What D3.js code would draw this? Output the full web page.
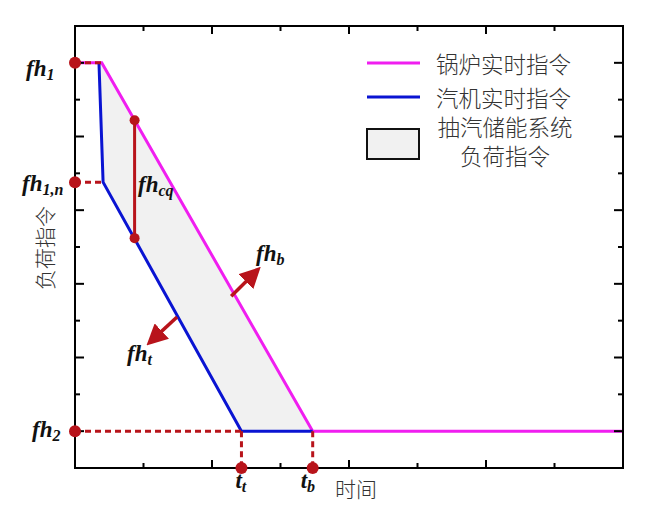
<!DOCTYPE html>
<html><head><meta charset="utf-8">
<script src="https://cdn.jsdelivr.net/npm/d3@7"></script>
<style>body{margin:0;background:#fff}svg{display:block}</style>
</head><body><svg id="c" width="658" height="513"></svg>
<script>
// ---- data ----
const xTicksMajor = [0, 2, 4, 6, 8];
const xTicksMinor = [1, 3, 5, 7];
const yTicksMajor = [0.5, 1.5, 2.5, 3.5, 4.5, 5.5];
const yTicksMinor = [1, 2, 3, 4, 5];
const boilerX = [0, 0.39, 3.47, 8];
const boilerY = [5.5, 5.5, 0.5, 0.5];
const turbineX = [0.35, 0.41, 2.43, 3.47];
const turbineY = [5.5, 3.88, 0.5, 0.5];
const fh1 = 5.5, fh1n = 3.88, fh2 = 0.5;
const tt = 2.43, tb = 3.47;
const fhcqX = 0.87, fhcqY = [4.72, 3.12];
const legendNames = ["锅炉实时指令", "汽机实时指令", "抽汽储能系统", "负荷指令"];

const svg = d3.select("#c");
const x = d3.scaleLinear().domain([0, 8]).range([75, 623]);
const y = d3.scaleLinear().domain([0, 6]).range([468, 26]);
const RED = "#b8141b", MAG = "#f01ef0", BLUE = "#0a14d2";

// fill region between the two lines
const poly = turbineX.map((v, i) => [x(v), y(turbineY[i])]);
for (let i = boilerX.length - 2; i >= 1; i--) poly.push([x(boilerX[i]), y(boilerY[i])]);
svg.append("polygon").attr("points", poly.map(p => p.join(",")).join(" "))
  .attr("fill", "#f1f1f1");

const line = d3.line();
svg.append("path").attr("d", line(boilerX.map((v, i) => [x(v), y(boilerY[i])])))
  .attr("fill", "none").attr("stroke", MAG).attr("stroke-width", 3);
svg.append("path").attr("d", line(turbineX.map((v, i) => [x(v), y(turbineY[i])])))
  .attr("fill", "none").attr("stroke", BLUE).attr("stroke-width", 3);

// dashed helper lines
const dashes = [
  [[0, fh1], [boilerX[1], fh1]],
  [[0, fh1n], [turbineX[1], fh1n]],
  [[0, fh2], [tt, fh2]],
  [[tt, fh2], [tt, 0]],
  [[tb, fh2], [tb, 0]]
];
dashes.forEach(d => svg.append("path")
  .attr("d", line(d.map(p => [x(p[0]), y(p[1])])))
  .attr("stroke", RED).attr("stroke-width", 3).attr("stroke-dasharray", "6,4").attr("fill", "none"));

// axes frame
const g = svg.append("g").attr("stroke", "#000").attr("stroke-width", 2);
g.append("rect").attr("x", x(0)).attr("y", y(6)).attr("width", x(8) - x(0)).attr("height", y(0) - y(6))
  .attr("fill", "none");
xTicksMajor.concat(xTicksMinor).forEach(t => {
  const L = xTicksMajor.includes(t) ? 8 : 5;
  g.append("line").attr("x1", x(t)).attr("x2", x(t)).attr("y1", y(0)).attr("y2", y(0) - L);
  g.append("line").attr("x1", x(t)).attr("x2", x(t)).attr("y1", y(6)).attr("y2", y(6) + L);
});
yTicksMajor.concat(yTicksMinor).forEach(t => {
  const L = yTicksMajor.includes(t) ? 9 : 5;
  g.append("line").attr("y1", y(t)).attr("y2", y(t)).attr("x1", x(0)).attr("x2", x(0) + L);
  g.append("line").attr("y1", y(t)).attr("y2", y(t)).attr("x1", x(8)).attr("x2", x(8) - L);
});

// fhcq segment
svg.append("line").attr("x1", x(fhcqX)).attr("x2", x(fhcqX)).attr("y1", y(fhcqY[0])).attr("y2", y(fhcqY[1]))
  .attr("stroke", RED).attr("stroke-width", 3);
fhcqY.forEach(v => svg.append("circle").attr("cx", x(fhcqX)).attr("cy", y(v)).attr("r", 5).attr("fill", RED));

// dots on axes
[[0, fh1], [0, fh1n], [0, fh2], [tt, 0], [tb, 0]].forEach(p =>
  svg.append("circle").attr("cx", x(p[0])).attr("cy", y(p[1])).attr("r", 6).attr("fill", RED));

// arrows
const defs = svg.append("defs");
defs.append("marker").attr("id", "ah").attr("viewBox", "0 0 10 10").attr("refX", 3).attr("refY", 5)
  .attr("markerWidth", 6).attr("markerHeight", 6).attr("orient", "auto")
  .append("path").attr("d", "M0,0 L10,5 L0,10 z").attr("fill", RED);
const arrows = [[[2.28, 2.33], [2.56, 2.59]], [[1.49, 2.05], [1.2, 1.8]]];
arrows.forEach(a => svg.append("line")
  .attr("x1", x(a[0][0])).attr("y1", y(a[0][1])).attr("x2", x(a[1][0])).attr("y2", y(a[1][1]))
  .attr("stroke", RED).attr("stroke-width", 3.5).attr("marker-end", "url(#ah)"));

// math labels
const serif = "'Liberation Serif','DejaVu Serif',serif";
function mlabel(px, py, main, sub, anchor) {
  const t = svg.append("text").attr("x", px).attr("y", py).attr("font-family", serif)
    .attr("font-weight", "bold").attr("font-style", "italic").attr("font-size", 23)
    .attr("text-anchor", anchor || "start").attr("fill", "#111");
  t.append("tspan").text(main);
  t.append("tspan").attr("font-size", 16).attr("dy", 4).text(sub);
}
mlabel(26, 76, "fh", "1");
mlabel(22, 191, "fh", "1,n");
mlabel(138, 192, "fh", "cq");
mlabel(256, 261, "fh", "b");
mlabel(127, 361, "fh", "t");
mlabel(32, 437, "fh", "2");
mlabel(x(tt) - 6, 488, "t", "t");
mlabel(x(tb) - 12, 488, "t", "b");

const cjk = "'Noto Sans CJK SC','Noto Sans',sans-serif";
svg.append("text").attr("x", 335).attr("y", 497).attr("font-family", cjk).attr("font-size", 21)
  .attr("font-weight", 300).attr("fill", "#333").text("时间");
svg.append("text").attr("transform", "translate(53,248) rotate(-90)").attr("text-anchor", "middle")
  .attr("font-family", cjk).attr("font-size", 21).attr("font-weight", 300).attr("fill", "#333").text("负荷指令");

// legend
const lg = svg.append("g");
lg.append("line").attr("x1", 367).attr("x2", 420).attr("y1", 63).attr("y2", 63).attr("stroke", MAG).attr("stroke-width", 3);
lg.append("line").attr("x1", 367).attr("x2", 420).attr("y1", 97).attr("y2", 97).attr("stroke", BLUE).attr("stroke-width", 3);
lg.append("rect").attr("x", 367).attr("y", 129).attr("width", 52).attr("height", 30)
  .attr("fill", "#f1f1f1").attr("stroke", "#111").attr("stroke-width", 2);
const lt = (tx, ty, s, anc) => lg.append("text").attr("x", tx).attr("y", ty).attr("font-family", cjk)
  .attr("font-size", 22.5).attr("font-weight", 300).attr("fill", "#333").attr("text-anchor", anc)
  .attr("dominant-baseline", "central").text(s);
lt(436, 63, legendNames[0], "start");
lt(436, 97, legendNames[1], "start");
lt(505, 126, legendNames[2], "middle");
lt(505, 155, legendNames[3], "middle");
</script></body></html>
